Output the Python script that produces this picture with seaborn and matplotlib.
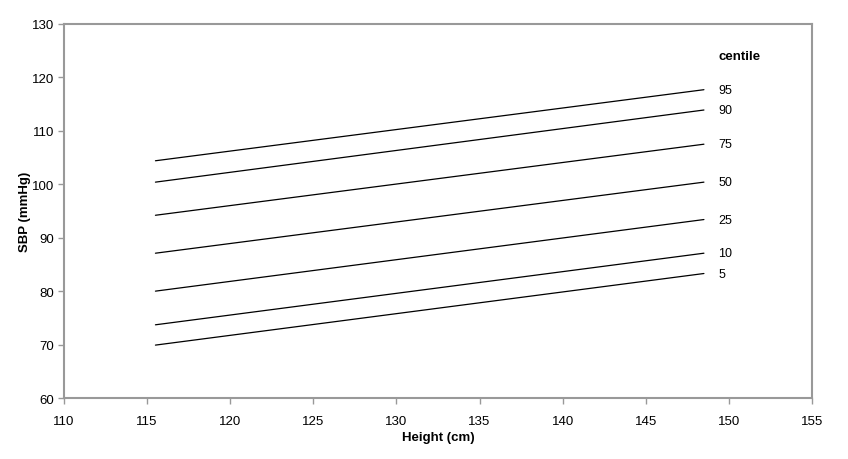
import pandas as pd
import numpy as np
import matplotlib.pyplot as plt
import seaborn as sns

sns.set_style('white')
plt.rcParams['font.family'] = ['Liberation Sans', 'DejaVu Sans']
plt.rcParams['text.color'] = 'black'
plt.rcParams['axes.labelcolor'] = 'black'
plt.rcParams['xtick.color'] = 'black'
plt.rcParams['ytick.color'] = 'black'

# Data ###################################################
centiles = [95, 90, 75, 50, 25, 10, 5]
height_cm = [115.5, 148.5]
sbp_start = [104.4, 100.4, 94.2, 87.1, 80.0, 73.7, 69.9]
sbp_end = [117.7, 113.9, 107.5, 100.4, 93.4, 87.1, 83.3]

# Long-form frame for seaborn
rows = []
for c, y0, y1 in zip(centiles, sbp_start, sbp_end):
    rows.append({'Height': height_cm[0], 'SBP': y0, 'centile': str(c)})
    rows.append({'Height': height_cm[1], 'SBP': y1, 'centile': str(c)})
df = pd.DataFrame(rows)

# Plot ###################################################
fig = plt.figure(figsize=(8.48, 4.6), dpi=100)
ax = fig.add_axes([0.0755, 0.1326, 0.882, 0.8131])

sns.lineplot(data=df, x='Height', y='SBP', hue='centile',
             palette=['black'] * len(centiles), linewidth=0.9,
             legend=False, ax=ax)

# Centile labels at the line ends
for c, y1 in zip(centiles, sbp_end):
    ax.annotate(str(c), xy=(height_cm[1], y1), xytext=(10.5, 0),
                textcoords='offset points', va='center', ha='left', fontsize=9)
ax.annotate('centile', xy=(height_cm[1], 124), xytext=(10.5, 0),
            textcoords='offset points', va='center', ha='left',
            fontsize=9.5, fontweight='heavy')

ax.set_xlim(110, 155)
ax.set_ylim(60, 130)
ax.set_xticks(np.arange(110, 156, 5))
ax.set_yticks(np.arange(60, 131, 10))
ax.set_xlabel('Height (cm)', fontsize=9.5, fontweight='heavy', labelpad=3)
ax.set_ylabel('SBP (mmHg)', fontsize=9.5, fontweight='heavy', labelpad=1)

for s in ax.spines.values():
    s.set_color('#999999')
    s.set_linewidth(1.5)
ax.tick_params(axis='both', direction='out', length=4, width=1,
               color='#999999', labelsize=9.5, bottom=True, left=True)
ax.tick_params(axis='x', pad=8)
ax.tick_params(axis='y', pad=3)

fig.savefig('out.png', dpi=100)
